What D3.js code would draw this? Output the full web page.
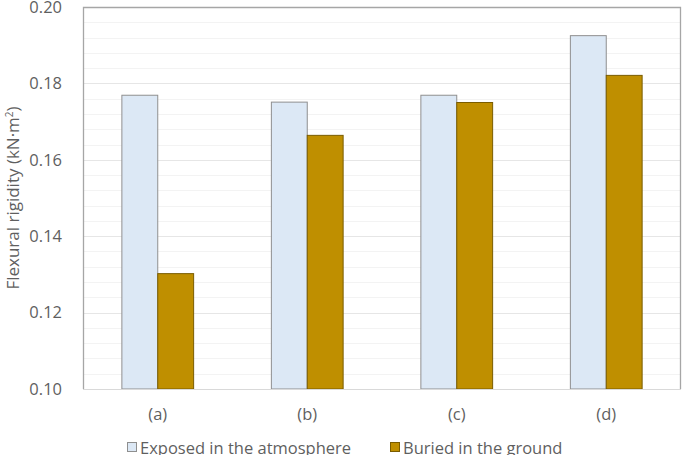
<!DOCTYPE html>
<html><head><meta charset="utf-8">
<script src="https://cdn.jsdelivr.net/npm/d3@7"></script>
<style>body{margin:0;background:#fff}svg{display:block}text{font-family:"Open Sans",Lato,sans-serif;fill:#5f5f5f}</style>
</head><body><svg id="c" width="688" height="455"></svg>
<script>
const categories = ["(a)","(b)","(c)","(d)"];
const seriesNames = ["Exposed in the atmosphere","Buried in the ground"];
const exposed = [0.1769, 0.1751, 0.1769, 0.1925];
const buried = [0.1302, 0.1664, 0.1750, 0.1821];
const yTicks = [0.10,0.12,0.14,0.16,0.18,0.20];
const colors = ["#dce8f5","#bf8f00"];
const strokes = ["#8f8f8f","#7a5c00"];

const svg = d3.select("#c");
const m = {l:83, r:681, t:7, b:389};
const x = d3.scaleBand().domain(categories).range([m.l, m.r]).paddingInner(0.52).paddingOuter(0.26);
const xs = d3.scaleBand().domain([0,1]).range([0, x.bandwidth()]);
const y = d3.scaleLinear().domain([0.10,0.20]).range([m.b, m.t]);
const FS = "16.5px";

// minor gridlines
const minor = d3.range(0.104, 0.2, 0.004).filter(v => Math.abs((v*100)%2) > 0.01 && Math.abs((v*100)%2 - 2) > 0.01);
svg.append("g").selectAll("line").data(minor).join("line")
  .attr("x1", m.l).attr("x2", m.r).attr("y1", d=>Math.round(y(d))+0.5).attr("y2", d=>Math.round(y(d))+0.5)
  .attr("stroke", "#f3f3f3").attr("stroke-width", 1);
// major gridlines
svg.append("g").selectAll("line").data(yTicks.slice(1,-1)).join("line")
  .attr("x1", m.l).attr("x2", m.r).attr("y1", d=>Math.round(y(d))+0.5).attr("y2", d=>Math.round(y(d))+0.5)
  .attr("stroke", "#e6e6e6").attr("stroke-width", 1);

// bars
const data = categories.map((c,i)=>({c, v:[exposed[i], buried[i]]}));
const g = svg.append("g");
data.forEach(d=>{
  d.v.forEach((v,j)=>{
    g.append("rect").attr("x", x(d.c)+xs(j)).attr("width", xs.bandwidth())
      .attr("y", y(v)).attr("height", y(0.10)-y(v))
      .attr("fill", colors[j]).attr("stroke", strokes[j]).attr("stroke-width", 1);
  });
});

// frame
svg.append("path").attr("d", `M${m.l+0.5},${m.b}V${m.t+0.5}H${m.r-0.5}V${m.b}`)
  .attr("fill","none").attr("stroke","#a6a6a6").attr("stroke-width",1.3);
svg.append("line").attr("x1", m.l).attr("x2", m.r).attr("y1", m.b+0.5).attr("y2", m.b+0.5)
  .attr("stroke","#d9d9d9").attr("stroke-width",1);

// y axis labels
const yAxis = d3.axisLeft(y).tickValues(yTicks).tickFormat(d3.format(".2f")).tickSize(0).tickPadding(21);
const ya = svg.append("g").attr("transform",`translate(${m.l},0)`).call(yAxis);
ya.select(".domain").remove();
ya.selectAll("text").style("font-size",FS).attr("fill","#5f5f5f");

// x axis labels
const xAxis = d3.axisBottom(x).tickSize(0).tickPadding(19);
const xa = svg.append("g").attr("transform",`translate(0,${m.b})`).call(xAxis);
xa.select(".domain").remove();
xa.selectAll("text").style("font-size",FS).attr("fill","#5f5f5f");

// y title
svg.append("text").attr("transform","translate(19,198) rotate(-90)").attr("text-anchor","middle")
  .style("font-size","17px").html('Flexural rigidity (kN·m<tspan dy="-6" style="font-size:10px">2</tspan><tspan dy="6">)</tspan>');

// legend
const leg = [{x:127, i:0},{x:390, i:1}];
leg.forEach(l=>{
  svg.append("rect").attr("x", l.x+0.5).attr("y", 442.5).attr("width", 9).attr("height", 9)
    .attr("fill", colors[l.i]).attr("stroke", strokes[l.i]);
  svg.append("text").attr("x", l.x+13).attr("y", 454).style("font-size",FS).text(seriesNames[l.i]);
});
</script></body></html>
